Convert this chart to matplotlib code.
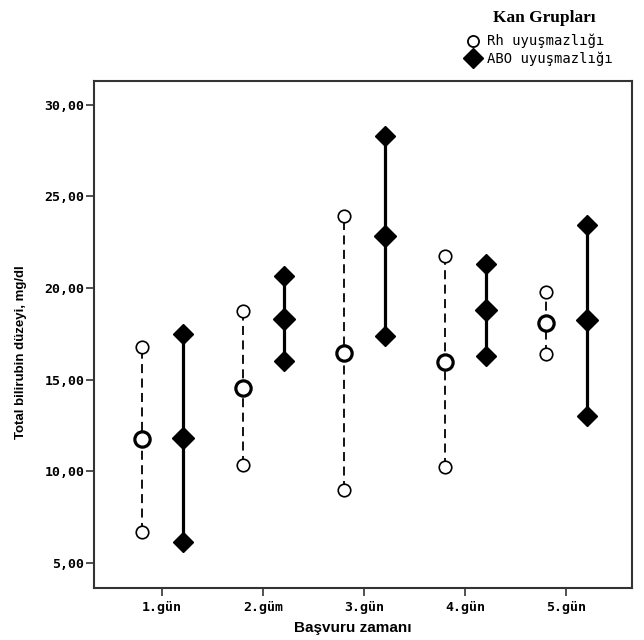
import matplotlib.pyplot as plt
from matplotlib.lines import Line2D

days = ["1.gün", "2.güm", "3.gün", "4.gün", "5.gün"]

# Rh incompatibility: low / mean / high
rh_low = [6.68, 10.34, 8.96, 10.20, 16.38]
rh_mean = [11.73, 14.56, 16.42, 15.94, 18.11]
rh_high = [16.75, 18.74, 23.91, 21.73, 19.80]

# ABO incompatibility: low / mean / high
abo_low = [6.12, 16.02, 17.36, 16.31, 13.00]
abo_mean = [11.83, 18.28, 22.82, 18.82, 18.24]
abo_high = [17.51, 20.64, 28.28, 21.33, 23.41]

yticks = [5, 10, 15, 20, 25, 30]

fig = plt.figure(figsize=(6.44, 6.40), dpi=100)
ax = fig.add_axes([0.146, 0.081, 0.835, 0.792])

pos = list(range(1, len(days) + 1))
off = 0.204
x_rh = [p - off for p in pos]
x_abo = [p + off for p in pos]

ax.vlines(x_rh, rh_low, rh_high, colors="black", linewidth=1.3,
          linestyles=(0, (5, 3)), zorder=2)
ax.vlines(x_abo, abo_low, abo_high, colors="black", linewidth=2.3, zorder=2)

ax.plot(x_rh + x_rh, rh_low + rh_high, "o", ms=9, mfc="white", mec="black",
        mew=1.2, ls="none", zorder=3)
ax.plot(x_rh, rh_mean, "o", ms=11, mfc="white", mec="black", mew=2.3,
        ls="none", zorder=3)
ax.plot(x_abo + x_abo, abo_low + abo_high, "D", ms=10, color="black",
        ls="none", zorder=3)
ax.plot(x_abo, abo_mean, "D", ms=11.5, color="black", ls="none", zorder=3)

ax.set_xlim(0.325, 5.646)
ax.set_ylim(3.61, 31.28)
ax.set_xticks(pos)
ax.set_xticklabels(days)
ax.set_yticks(yticks)
ax.set_yticklabels([f"{v:.2f}".replace(".", ",") for v in yticks])

for lab in ax.get_xticklabels() + ax.get_yticklabels():
    lab.set_fontfamily("DejaVu Sans Mono")
    lab.set_fontweight("bold")
    lab.set_fontsize(9.5)

ax.tick_params(axis="both", direction="out", length=6, width=1.2, color="#333333")
ax.tick_params(axis="y", pad=1)
ax.tick_params(axis="x", pad=3)
for sp in ax.spines.values():
    sp.set_color("#333333")
    sp.set_linewidth(1.5)

ax.set_ylabel("Total bilirubin düzeyi, mg/dl", fontsize=9.5, fontweight="bold",
              fontfamily="Liberation Sans")
ax.yaxis.set_label_coords(-0.125, 0.465)
ax.set_xlabel("Başvuru zamanı", fontsize=11, fontweight="bold",
              fontfamily="Liberation Sans")
ax.xaxis.set_label_coords(0.481, -0.065)

fig.text(0.845, 0.972, "Kan Grupları", fontsize=12.5, fontweight="bold",
         fontfamily="Liberation Serif", ha="center", va="center")

handles = [
    Line2D([], [], marker="o", ls="none", ms=8, mfc="white", mec="black", mew=1.3),
    Line2D([], [], marker="D", ls="none", ms=10, color="black"),
]
fig.legend(handles, ["Rh uyuşmazlığı", "ABO uyuşmazlığı"], loc="upper left",
           bbox_to_anchor=(0.724, 0.947), frameon=False, handlelength=1.0,
           handletextpad=0.5, labelspacing=0.2, borderpad=0.0,
           borderaxespad=0.0,
           prop={"family": "DejaVu Sans Mono", "size": 10})

fig.savefig("out.png", dpi=100, facecolor="white")
